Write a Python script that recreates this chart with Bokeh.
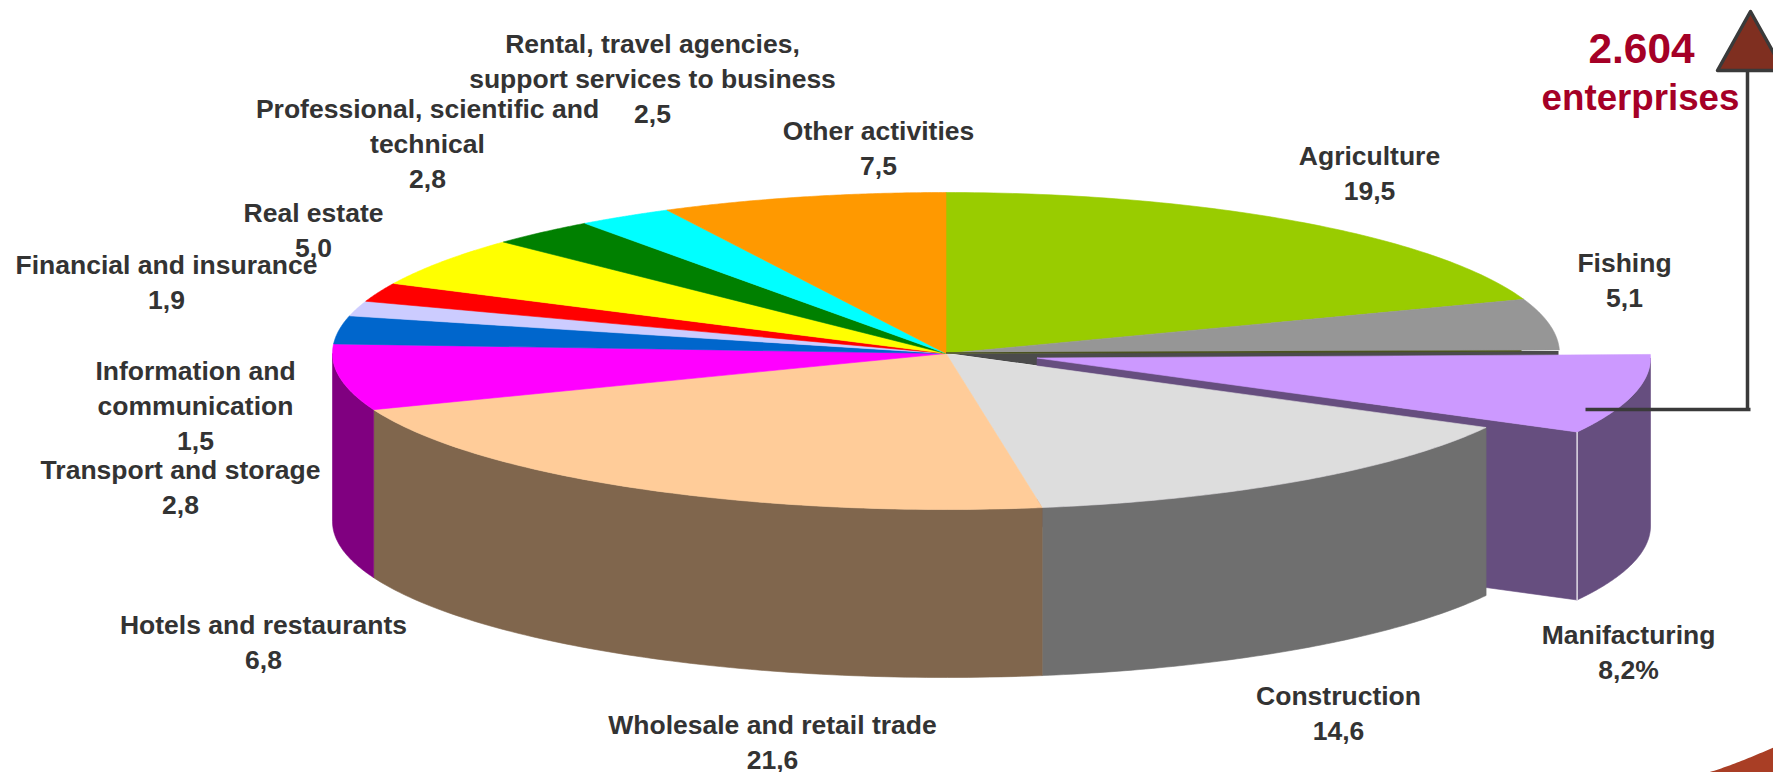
import numpy as np
from bokeh.plotting import figure
from bokeh.models import Range1d
from bokeh.core.properties import value
from bokeh.embed import file_html
from bokeh.resources import INLINE

# --- data ---
categories = ["Agriculture", "Fishing", "Manifacturing", "Construction",
              "Wholesale and retail trade", "Hotels and restaurants",
              "Transport and storage", "Information and communication",
              "Financial and insurance", "Real estate",
              "Professional, scientific and technical",
              "Rental, travel agencies, support services to business",
              "Other activities"]
shares = [19.5, 5.1, 8.2, 14.6, 21.6, 6.8, 2.8, 1.5, 1.9, 5.0, 2.8, 2.5, 7.5]
top_colors = ["#99CC00", "#969696", "#CC99FF", "#DDDDDD", "#FFCC99", "#FF00FF",
              "#0066CC", "#CCCCFF", "#FF0000", "#FFFF00", "#008000", "#00FFFF", "#FF9900"]
side_colors = ["#4D6600", "#4B4B4B", "#664E7F", "#6F6F6F", "#80664D", "#800080",
               "#003366", "#666680", "#800000", "#808000", "#004000", "#008080", "#804D00"]
label_lines = [["Agriculture", "19,5"], ["Fishing", "5,1"], ["Manifacturing", "8,2%"],
               ["Construction", "14,6"], ["Wholesale and retail trade", "21,6"],
               ["Hotels and restaurants", "6,8"], ["Transport and storage", "2,8"],
               ["Information and", "communication", "1,5"], ["Financial and insurance", "1,9"],
               ["Real estate", "5,0"], ["Professional, scientific and", "technical", "2,8"],
               ["Rental, travel agencies,", "support services to business", "2,5"],
               ["Other activities", "7,5"]]
label_x = [1369, 1624, 1628, 1338, 772, 263, 180, 195, 166, 313, 427, 652, 878]
label_top_y = [155, 262, 634, 695, 724, 624, 469, 370, 264, 212, 108, 43, 130]
total_text = ["2.604", "enterprises"]

# --- geometry, in page pixels ---
CX, CY, RX = 945.5, 353.0, 613.5
RY_BACK, RY_FRONT = 161.0, 156.0
DEPTH = 168.0
EXPLODE_DX, EXPLODE_DY = 91.0, 4.5
EXPLODED = categories.index("Manifacturing")

p = figure(width=1773, height=772, x_range=Range1d(0, 1773), y_range=Range1d(772, 0),
           output_backend="svg", toolbar_location=None, min_border=0,
           background_fill_color="white", border_fill_color="white")
p.axis.visible = False
p.grid.visible = False
p.outline_line_color = None

cum = np.concatenate([[0], np.cumsum(shares)]) / sum(shares) * 360.0


def arc(a0, a1, cx=CX, cy=CY):
    t = np.radians(np.linspace(a0, a1, 80))
    c = np.cos(t)
    return cx + RX * np.sin(t), cy - np.where(c > 0, RY_BACK, RY_FRONT) * c


def draw(xs, ys, color, lw=0.6):
    p.patch(list(xs), list(ys), fill_color=color, line_color=color, line_width=lw)


ex_cx, ex_cy = CX + EXPLODE_DX, CY + EXPLODE_DY
a0, a1 = cum[EXPLODED], cum[EXPLODED + 1]

# dark gap behind the exploded slice (inner walls of the neighbours)
GAP_END = 1558
draw([CX, GAP_END, GAP_END, ex_cx + 300, ex_cx], [CY - 0.5, CY - 2.5, CY + 2, CY + 50, CY + 12], "#4B4B4B", 0)

# exploded slice: cut face and rim
tx, ty = arc(a0, a1, ex_cx, ex_cy)
draw([ex_cx, tx[-1], tx[-1], ex_cx], [ex_cy, ty[-1], ty[-1] + DEPTH, ex_cy + DEPTH], side_colors[EXPLODED])
rim0 = max(a0, 90.0)
rx_, ry_ = arc(rim0, a1, ex_cx, ex_cy)
draw(np.r_[rx_, rx_[::-1]], np.r_[ry_, ry_[::-1] + DEPTH], side_colors[EXPLODED])
draw(np.r_[[ex_cx], tx], np.r_[[ex_cy], ty], top_colors[EXPLODED])
p.line([tx[-1], tx[-1]], [ty[-1], ty[-1] + DEPTH], line_color="white", line_width=1.2)

# rims of the front slices
for i in range(len(shares)):
    if i == EXPLODED:
        continue
    s0, s1 = cum[i], cum[i + 1]
    lo, hi = max(s0, 90.0), min(s1, 270.0)
    if lo >= hi:
        continue
    xs, ys = arc(lo, hi)
    draw(np.r_[xs, xs[::-1]], np.r_[ys, ys[::-1] + DEPTH], side_colors[i])

# top faces
for i in range(len(shares)):
    if i == EXPLODED:
        continue
    xs, ys = arc(cum[i], cum[i + 1])
    draw(np.r_[[CX], xs], np.r_[[CY], ys], top_colors[i])

# olive edge under the fishing slice
p.line([CX, 1521], [CY - 0.5, CY - 2.5], line_color="#4B5320", line_width=1.6)

# callout arrow
ARROW = "#3A3A3A"
p.line([1585, 1750], [409, 409], line_color=ARROW, line_width=3.5)
p.line([1747, 1747], [70, 409], line_color=ARROW, line_width=3.5)
p.patch([1717, 1750, 1783], [70, 11, 70], fill_color="#7F2F20", line_color=ARROW,
        line_width=3.5, line_join="round")

# page decoration, lower right corner
dx = np.linspace(1707, 1773, 30)
dy = 772 - 25 * ((dx - 1707) / 66.0) ** 1.15
p.patch(np.r_[dx, [1773]].tolist(), np.r_[dy, [772]].tolist(), fill_color="#A93E25", line_color=None)

# labels
LINE = 35.0
lx, ly, lt = [], [], []
for x, y0, lines in zip(label_x, label_top_y, label_lines):
    for k, t in enumerate(lines):
        lx.append(x)
        ly.append(y0 + k * LINE)
        lt.append(t)
p.text(lx, ly, text=lt, text_font=value("Liberation Sans"), text_font_style="bold",
       text_font_size="26.5px", text_color="#333333", text_align="center", text_baseline="middle")

p.text([1641], [47.5], text=[total_text[0]], text_font=value("Liberation Sans"), text_font_style="bold",
       text_font_size="42.4px", text_color="#A50026", text_align="center", text_baseline="middle")
p.text([1640], [97], text=[total_text[1]], text_font=value("Liberation Sans"), text_font_style="bold",
       text_font_size="36.7px", text_color="#A50026", text_align="center", text_baseline="middle")

open("out.html", "w").write(file_html(p, INLINE))
